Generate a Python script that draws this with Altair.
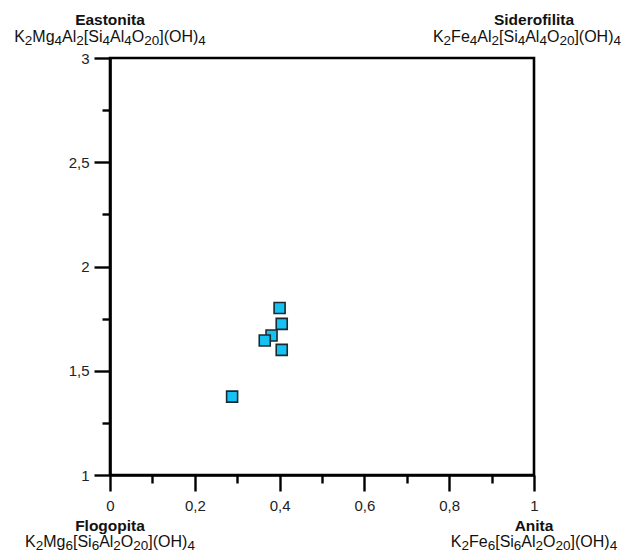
import re
import altair as alt
import pandas as pd

# ---- data ----
fe_ratio = [0.400, 0.405, 0.381, 0.365, 0.405, 0.288]
al_iv = [1.801, 1.725, 1.669, 1.645, 1.600, 1.376]

x_ticks = [0, 0.1, 0.2, 0.3, 0.4, 0.5, 0.6, 0.7, 0.8, 0.9, 1]
y_ticks = [1, 1.25, 1.5, 1.75, 2, 2.25, 2.5, 2.75, 3]

corner_names = ["Eastonita", "Siderofilita", "Flogopita", "Anita"]
corner_formulas = [
    "K_2Mg_4Al_2[Si_4Al_4O_20](OH)_4",
    "K_2Fe_4Al_2[Si_4Al_4O_20](OH)_4",
    "K_2Mg_6[Si_6Al_2O_20](OH)_4",
    "K_2Fe_6[Si_6Al_2O_20](OH)_4",
]
corner_x = [0, 1, 0, 1]
corner_y = [3, 3, 1, 1]

# ---- layout ----
W, H = 424, 417
PAD_L, PAD_T, PAD_R, PAD_B = 102, 50, 89, 80
X_DOM, Y_DOM = [0, 1], [1, 3]
PX_X = W / (X_DOM[1] - X_DOM[0])
PX_Y = H / (Y_DOM[1] - Y_DOM[0])
FONT = "Liberation Sans"
NAME_SIZE, FORM_SIZE, SUB_SIZE = 15.5, 16, 13.5
SUB_DROP = 3.5
MAX_RIGHT = W + PAD_R - 2  # keep text inside the drawing

# Arial / Liberation Sans advance widths (per 1000 em)
ADV = {"K": 667, "M": 833, "g": 556, "A": 667, "l": 222, "[": 278, "S": 667,
       "i": 222, "O": 778, "]": 278, "(": 333, ")": 333, "H": 722, "F": 611,
       "e": 556}
for d in "0123456789":
    ADV[d] = 556


def text_w(s, size):
    return sum(ADV.get(c, 556) for c in s) * size / 1000.0


name_rows, norm_rows, sub_rows = [], [], []
for nm, fm, cx, cy in zip(corner_names, corner_formulas, corner_x, corner_y):
    top = cy == Y_DOM[1]
    name_dy = 33.5 if top else -55.5
    form_dy = 16.5 if top else -71.5
    name_rows.append({"x": cx, "y": cy + name_dy / PX_Y, "t": nm})
    parts = []
    for tok in re.split(r"(_\d+)", fm):
        if not tok:
            continue
        if tok.startswith("_"):
            parts.append((tok[1:], True))
        else:
            parts.append((tok, False))
    widths = [text_w(s, SUB_SIZE if sub else FORM_SIZE) for s, sub in parts]
    total = sum(widths)
    off = -total / 2.0
    right_px = (cx - X_DOM[0]) * PX_X + total / 2.0
    if right_px > MAX_RIGHT:
        off -= right_px - MAX_RIGHT
    for (s, sub), w in zip(parts, widths):
        row = {"x": cx + off / PX_X,
               "y": cy + (form_dy - (SUB_DROP if sub else 0)) / PX_Y,
               "t": s}
        (sub_rows if sub else norm_rows).append(row)
        off += w

points = pd.DataFrame({"x": fe_ratio, "y": al_iv})

x_major = "abs(datum.value*5 - round(datum.value*5)) < 0.001"
y_major = "abs(datum.value*2 - round(datum.value*2)) < 0.001"

common = dict(
    title=None, grid=False, tickWidth=2.4, tickColor="black",
    domainColor="black", domainWidth=2.6, labelFont=FONT, labelFontSize=15,
    labelColor="#222", labelFlush=False, labelOverlap=False,
)
x_axis = alt.Axis(
    values=x_ticks,
    labelExpr=f"{x_major} ? replace(format(datum.value, '.1~f'), '.', ',') : ''",
    tickSize={"condition": {"test": x_major, "value": 16}, "value": 8},
    labelPadding=7, **common,
)
y_axis = alt.Axis(
    values=y_ticks,
    labelExpr=f"{y_major} ? replace(format(datum.value, '.1~f'), '.', ',') : ''",
    tickSize={"condition": {"test": y_major, "value": 16}, "value": 8},
    labelPadding=5, **common,
)
xs = alt.Scale(domain=X_DOM, nice=False, zero=False)
ys = alt.Scale(domain=Y_DOM, nice=False, zero=False)

pts = alt.Chart(points).mark_square(
    size=121, fill="#14c3f3", stroke="#1c2a30", strokeWidth=1.6, opacity=1
).encode(x=alt.X("x:Q", scale=xs, axis=x_axis), y=alt.Y("y:Q", scale=ys, axis=y_axis))

names = alt.Chart(pd.DataFrame(name_rows)).mark_text(
    font=FONT, fontSize=NAME_SIZE, fontWeight="bold", align="center",
    baseline="alphabetic", color="#111"
).encode(x=alt.X("x:Q", scale=xs), y=alt.Y("y:Q", scale=ys), text="t:N")

norm = alt.Chart(pd.DataFrame(norm_rows)).mark_text(
    font=FONT, fontSize=FORM_SIZE, align="left", baseline="alphabetic", color="#111"
).encode(x=alt.X("x:Q", scale=xs), y=alt.Y("y:Q", scale=ys), text="t:N")

subs = alt.Chart(pd.DataFrame(sub_rows)).mark_text(
    font=FONT, fontSize=SUB_SIZE, align="left", baseline="alphabetic", color="#111"
).encode(x=alt.X("x:Q", scale=xs), y=alt.Y("y:Q", scale=ys), text="t:N")

chart = alt.layer(pts, names, norm, subs).properties(
    width=W, height=H,
    autosize=alt.AutoSizeParams(type="none"),
    padding={"left": PAD_L, "top": PAD_T, "right": PAD_R, "bottom": PAD_B},
).configure_view(stroke="black", strokeWidth=2.6)

chart.save("out.html", embed_options={"renderer": "svg", "actions": False})
